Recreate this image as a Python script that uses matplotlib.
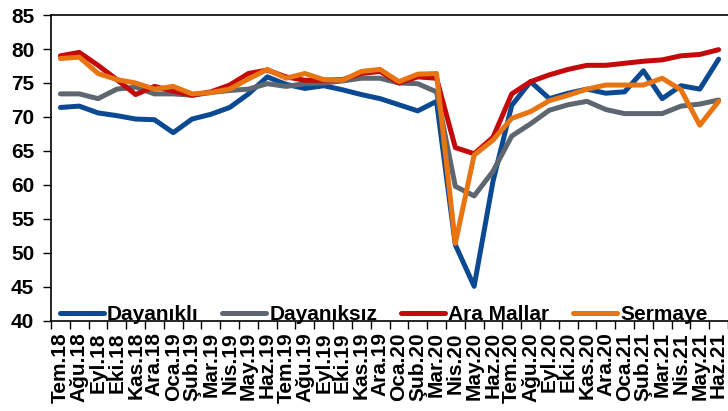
import numpy as np
import matplotlib
matplotlib.use("Agg")
import matplotlib.pyplot as plt

plt.rcParams['font.family'] = ['Liberation Sans', 'DejaVu Sans']

months = ['Tem.18', 'Ağu.18', 'Eyl.18', 'Eki.18', 'Kas.18', 'Ara.18',
          'Oca.19', 'Şub.19', 'Mar.19', 'Nis.19', 'May.19', 'Haz.19',
          'Tem.19', 'Ağu.19', 'Eyl.19', 'Eki.19', 'Kas.19', 'Ara.19',
          'Oca.20', 'Şub.20', 'Mar.20', 'Nis.20', 'May.20', 'Haz.20',
          'Tem.20', 'Ağu.20', 'Eyl.20', 'Eki.20', 'Kas.20', 'Ara.20',
          'Oca.21', 'Şub.21', 'Mar.21', 'Nis.21', 'May.21', 'Haz.21']

# Kapasite kullanım oranları (okunan değerler)
dayanikli = [71.4, 71.6, 70.6, 70.2, 69.7, 69.6, 67.7, 69.7, 70.4, 71.4, 73.4, 75.9,
             74.8, 74.2, 74.6, 74.0, 73.3, 72.7, 71.8, 70.9, 72.3, 51.2, 45.1, 60.5,
             71.7, 75.2, 72.7, 73.5, 74.1, 73.5, 73.7, 76.8, 72.7, 74.6, 74.1, 78.5]
dayaniksiz = [73.4, 73.4, 72.7, 74.1, 74.4, 73.4, 73.4, 73.2, 73.6, 73.9, 74.1, 74.9,
              74.5, 74.9, 75.0, 75.3, 75.7, 75.7, 75.0, 74.9, 73.7, 59.8, 58.4, 62.0,
              67.2, 69.0, 71.0, 71.8, 72.3, 71.1, 70.5, 70.5, 70.5, 71.6, 71.9, 72.5]
ara_mallar = [79.0, 79.5, 77.6, 75.5, 73.3, 74.5, 73.8, 73.2, 73.7, 74.7, 76.4, 76.9,
              75.9, 75.4, 75.4, 75.5, 76.4, 76.7, 75.0, 75.9, 75.7, 65.5, 64.6, 67.0,
              73.4, 75.2, 76.2, 77.0, 77.6, 77.6, 77.9, 78.2, 78.4, 79.0, 79.2, 79.9]
sermaye = [78.6, 78.8, 76.4, 75.5, 75.0, 74.1, 74.5, 73.4, 73.6, 74.1, 75.6, 77.0,
           75.7, 76.4, 75.5, 75.4, 76.7, 77.0, 75.2, 76.3, 76.4, 51.4, 64.4, 66.6,
           69.8, 70.8, 72.4, 73.2, 74.1, 74.7, 74.7, 74.7, 75.7, 74.0, 68.8, 72.3]

series = [("Dayanıklı", dayanikli, '#0B4A93'),
          ("Dayanıksız", dayaniksiz, '#5E6770'),
          ("Ara Mallar", ara_mallar, '#C40A0A'),
          ("Sermaye", sermaye, '#E87511')]

fig = plt.figure(figsize=(7.28, 4.11), dpi=100)
ax = fig.add_axes([0.0701, 0.219, 0.9299, 0.7445])

x = np.arange(len(months))
for name, vals, col in series:
    ax.plot(x, vals, color=col, lw=3.6, label=name,
            solid_joinstyle='round', solid_capstyle='round')

ax.set_xlim(-0.5, len(months) - 0.5)
ax.set_ylim(40, 85)
ax.set_yticks(np.arange(40, 86, 5))
ax.set_xticks(x)
ax.set_xticklabels(months, rotation=90, fontsize=15, fontweight='bold')
ax.set_xticks(np.arange(-0.5, len(months), 1), minor=True)
ax.tick_params(axis='x', which='major', length=0, pad=8)
ax.tick_params(axis='x', which='minor', length=6, width=1, direction='out')
ax.tick_params(axis='y', length=6, width=1, direction='out', labelsize=15, pad=6)
for lab in ax.get_yticklabels():
    lab.set_fontweight('bold')

for s in ['left', 'bottom', 'top']:
    ax.spines[s].set_linewidth(1.2)
ax.spines['right'].set_visible(False)

ax.legend(loc='center left', bbox_to_anchor=(0.013, 0.021), ncol=4,
          frameon=False, borderpad=0, borderaxespad=0, handlelength=2.1,
          handletextpad=0.15, columnspacing=1.15,
          prop={'size': 15, 'weight': 'bold'})

fig.savefig("out.png", dpi=100)
